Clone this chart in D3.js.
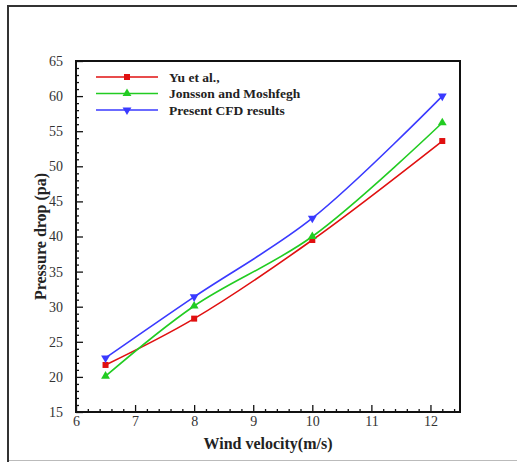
<!DOCTYPE html>
<html>
<head>
<meta charset="utf-8">
<script src="https://cdn.jsdelivr.net/npm/d3@7"></script>
<style>
  body { margin: 0; background: #fff; }
  text { font-family: "Liberation Serif", "Times New Roman", serif; }
</style>
</head>
<body>
<svg id="chart" width="517" height="462"></svg>
<script>
/* ---------- data ---------- */

var velocity = [6.5, 8, 10, 12.2];
var yuValues = [21.7, 28.3, 39.5, 53.6];
var jonssonValues = [20.1, 30.1, 40.0, 56.2];
var cfdValues = [22.7, 31.4, 42.6, 60.0];

var seriesNames = ["Yu et al.,", "Jonsson and Moshfegh", "Present CFD results"];
var xTicks = [6, 7, 8, 9, 10, 11, 12];
var yTicks = [15, 20, 25, 30, 35, 40, 45, 50, 55, 60, 65];

var series = [
    {name: seriesNames[0], values: yuValues, color: "#e01010", symbol: "square"},
    {name: seriesNames[1], values: jonssonValues, color: "#22cc22", symbol: "up"},
    {name: seriesNames[2], values: cfdValues, color: "#3a3aff", symbol: "down"}
];

/* ---------- layout ---------- */

var plotLeft = 76, plotRight = 460, plotTop = 61, plotBottom = 412;
var serif = '"Liberation Serif", "Times New Roman", serif';

var svg = d3.select("#chart");

// outer frame of the figure
svg.append("line").attr("x1", 8).attr("x2", 8).attr("y1", 6).attr("y2", 462)
    .attr("stroke", "#333").attr("stroke-width", 2);
svg.append("line").attr("x1", 7).attr("x2", 517).attr("y1", 6).attr("y2", 6)
    .attr("stroke", "#333").attr("stroke-width", 2);
svg.append("line").attr("x1", 9).attr("x2", 517).attr("y1", 460.5).attr("y2", 460.5)
    .attr("stroke", "#bbb").attr("stroke-width", 1);

var x = d3.scaleLinear().domain([6, 12.5]).range([plotLeft, plotRight]);
var y = d3.scaleLinear().domain([15, 65]).range([plotBottom, plotTop]);

/* ---------- axes ---------- */

var g = svg.append("g");

var xMinor = d3.range(6, 12.5001, 0.2).filter(function(v) { return Math.abs(v - Math.round(v)) > 0.01; });
var yMinor = d3.range(15, 65.001, 1).filter(function(v) { return v % 5 !== 0; });

g.append("g")
    .attr("transform", "translate(0," + plotBottom + ")")
    .call(d3.axisBottom(x).tickValues(xMinor).tickSize(-3).tickFormat(""))
    .call(function(a) { a.select(".domain").remove(); });

g.append("g")
    .attr("transform", "translate(0," + plotBottom + ")")
    .call(d3.axisBottom(x).tickValues(xTicks).tickSize(-7).tickPadding(4).tickFormat(d3.format("d")))
    .call(function(a) { a.select(".domain").remove(); });

g.append("g")
    .attr("transform", "translate(" + plotLeft + ",0)")
    .call(d3.axisLeft(y).tickValues(yMinor).tickSize(-3).tickFormat(""))
    .call(function(a) { a.select(".domain").remove(); });

g.append("g")
    .attr("transform", "translate(" + plotLeft + ",0)")
    .call(d3.axisLeft(y).tickValues(yTicks).tickSize(-7).tickPadding(13).tickFormat(d3.format("d")))
    .call(function(a) { a.select(".domain").remove(); });

g.selectAll(".tick line").attr("stroke", "#111").attr("stroke-width", 1.3);
g.selectAll(".tick text")
    .style("font-family", serif)
    .style("font-size", "14px").attr("fill", "#333");

// plot box
svg.append("rect")
    .attr("x", plotLeft).attr("y", plotTop)
    .attr("width", plotRight - plotLeft).attr("height", plotBottom - plotTop)
    .attr("fill", "none").attr("stroke", "#111").attr("stroke-width", 2);

/* ---------- lines ---------- */

var line = d3.line()
    .x(function(d) { return x(d[0]); })
    .y(function(d) { return y(d[1]); })
    .curve(d3.curveCatmullRom.alpha(0.5));

var symbolFor = {
    square: d3.symbol().type(d3.symbolSquare).size(36),
    up: d3.symbol().type(d3.symbolTriangle).size(34),
    down: d3.symbol().type(d3.symbolTriangle).size(34)
};

series.forEach(function(s) {
    var pts = velocity.map(function(v, i) { return [v, s.values[i]]; });
    svg.append("path")
        .datum(pts)
        .attr("d", line)
        .attr("fill", "none")
        .attr("stroke", s.color)
        .attr("stroke-width", 1.6);
    svg.selectAll(null)
        .data(pts)
        .enter().append("path")
        .attr("d", symbolFor[s.symbol]())
        .attr("transform", function(d) {
            return "translate(" + x(d[0]) + "," + y(d[1]) + ")" + (s.symbol === "down" ? " rotate(180)" : "");
        })
        .attr("fill", s.color);
});

/* ---------- legend ---------- */

var legend = svg.append("g");
series.forEach(function(s, i) {
    var ly = 77 + i * 16.5;
    legend.append("line")
        .attr("x1", 96).attr("x2", 158).attr("y1", ly).attr("y2", ly)
        .attr("stroke", s.color).attr("stroke-width", 1.6);
    legend.append("path")
        .attr("d", symbolFor[s.symbol]())
        .attr("transform", "translate(127," + ly + ")" + (s.symbol === "down" ? " rotate(180)" : ""))
        .attr("fill", s.color);
    legend.append("text")
        .attr("x", 169).attr("y", ly + 4.5)
        .style("font-family", serif)
        .attr("font-size", 13.5).attr("font-weight", "bold").attr("fill", "#222")
        .text(s.name);
});

/* ---------- axis titles ---------- */

svg.append("text")
    .attr("x", (plotLeft + plotRight) / 2).attr("y", 449)
    .attr("text-anchor", "middle")
    .style("font-family", serif)
    .attr("font-size", 16).attr("font-weight", "bold").attr("fill", "#222")
    .text("Wind velocity(m/s)");

svg.append("text")
    .attr("transform", "translate(46," + ((plotTop + plotBottom) / 2) + ") rotate(-90)")
    .attr("text-anchor", "middle")
    .style("font-family", serif)
    .attr("font-size", 16).attr("font-weight", "bold").attr("fill", "#222")
    .text("Pressure drop (pa)");
</script>
</body>
</html>
